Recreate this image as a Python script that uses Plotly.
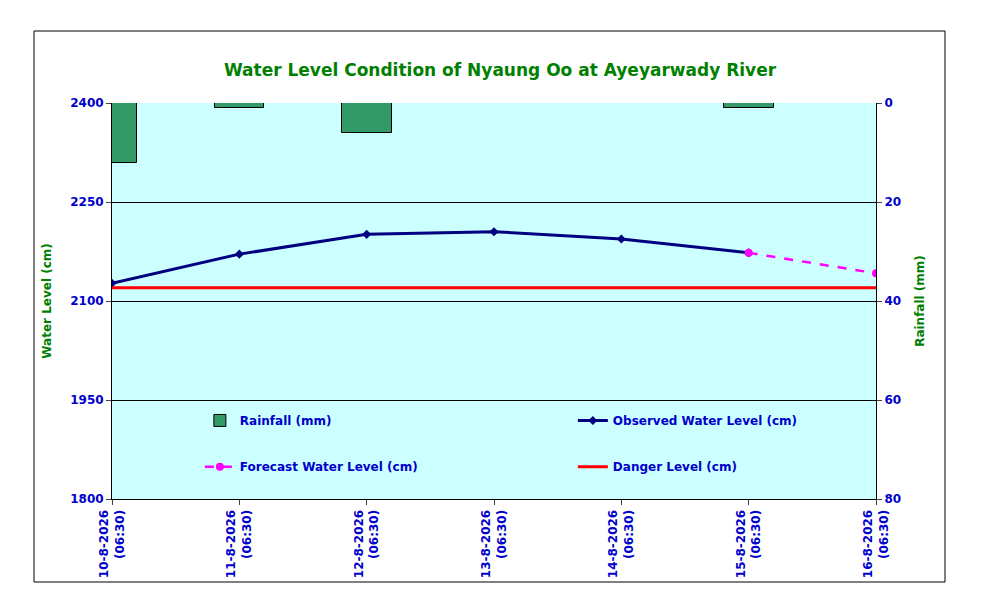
import plotly.graph_objects as go

dates = ["10-8-2026<br>(06:30)","11-8-2026<br>(06:30)","12-8-2026<br>(06:30)","13-8-2026<br>(06:30)",
         "14-8-2026<br>(06:30)","15-8-2026<br>(06:30)","16-8-2026<br>(06:30)"]
rainfall = [12.2, 1.0, 6.1, 0, 0, 1.0, 0]
observed = [2127, 2171, 2201, 2205, 2194, 2173]
forecast_x = [5, 6]
forecast = [2173, 2142]
danger = 2120

xs = list(range(len(dates)))
fig = go.Figure()
fig.add_trace(go.Bar(x=xs, y=rainfall, yaxis="y2", width=0.39, name="<b>Rainfall (mm)</b>", legend="legend",
                     marker=dict(color="#339966", line=dict(color="black", width=1))))
fig.add_trace(go.Scatter(x=xs[:len(observed)], y=observed, mode="lines+markers", name="<b>Observed Water Level (cm)</b>",
                         legend="legend", line=dict(color="#000080", width=3), marker=dict(symbol="diamond", size=7)))
fig.add_trace(go.Scatter(x=forecast_x, y=forecast, mode="lines+markers", name="<b>Forecast Water Level (cm)</b>",
                         legend="legend2", line=dict(color="#FF00FF", width=2.5, dash="dash"), marker=dict(size=8)))
fig.add_trace(go.Scatter(x=[xs[0], xs[-1]], y=[danger, danger], mode="lines", name="<b>Danger Level (cm)</b>",
                         legend="legend2", line=dict(color="red", width=3)))

tf = dict(family="DejaVu Sans", size=12, color="#0000CC")
leg = dict(xanchor="left", yanchor="top", orientation="h", entrywidth=328,
           bgcolor="rgba(0,0,0,0)", font=dict(size=12, color="#0000CC"))
fig.update_layout(
    width=984, height=595, paper_bgcolor="white", plot_bgcolor="#CCFFFF",
    margin=dict(l=104, r=116, t=95, b=104, autoexpand=False),
    font=dict(family="DejaVu Sans", size=12),
    title=dict(text="<b>Water Level Condition of Nyaung Oo at Ayeyarwady River</b>", x=0.5, xanchor="center",
               y=0.895, yanchor="middle", font=dict(size=17, color="#008000")),
    xaxis=dict(range=[0, 6], tickvals=xs, ticktext=["<b>%s</b>" % d for d in dates], tickangle=-90,
               tickfont=tf, showgrid=False, zeroline=False, showline=True, linecolor="black", ticks="outside", ticklen=5),
    yaxis=dict(range=[1800, 2400], tickvals=[1800, 1950, 2100, 2250, 2400], ticktext=["<b>%d</b>" % v for v in [1800,1950,2100,2250,2400]],
               tickfont=tf, showgrid=True, gridcolor="black", gridwidth=1, zeroline=False, showline=True, linecolor="black",
               ticks="outside", ticklen=5,
               title=dict(text="<b>Water Level (cm)</b>", font=dict(size=12, color="#008000"), standoff=15)),
    yaxis2=dict(range=[80, 0], overlaying="y", side="right", tickvals=[0, 20, 40, 60, 80],
                ticktext=["<b>%d</b>" % v for v in [0,20,40,60,80]], tickfont=tf, showgrid=False, zeroline=False,
                showline=True, linecolor="black", ticks="outside", ticklen=5,
                title=dict(text="<b>Rainfall (mm)</b>", font=dict(size=12, color="#008000"), standoff=15)),
    legend=dict(x=0.115, y=0.235, **leg),
    legend2=dict(x=0.115, y=0.118, **leg),
    showlegend=True, bargap=0,
)
fig.add_shape(type="rect", xref="paper", yref="paper", x0=-78/764, x1=833/764, y0=-83/396, y1=468/396,
              line=dict(color="black", width=1), layer="below")
fig.write_html("out.html")
